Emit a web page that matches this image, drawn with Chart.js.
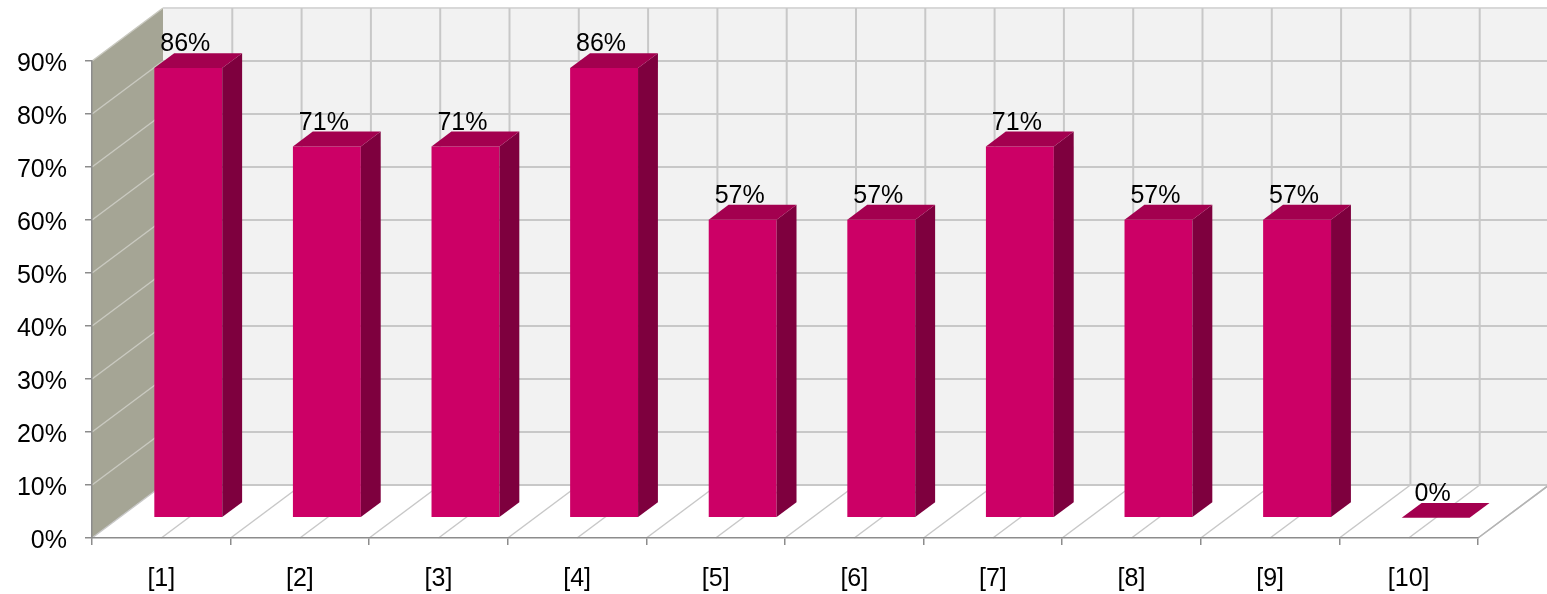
<!DOCTYPE html>
<html>
<head>
<meta charset="utf-8">
<script src="https://cdn.jsdelivr.net/npm/chart.js@4.4.1/dist/chart.umd.min.js"></script>
<style>
  html, body { margin: 0; padding: 0; background: #fff; }
  #wrap { width: 1547px; height: 594px; }
</style>
</head>
<body>
<div id="wrap"><canvas id="myChart"></canvas></div>
<script>
const labels = ["[1]", "[2]", "[3]", "[4]", "[5]", "[6]", "[7]", "[8]", "[9]", "[10]"];
const values = [86, 71, 71, 86, 57, 57, 71, 57, 57, 0];
const yTicks = [0, 10, 20, 30, 40, 50, 60, 70, 80, 90];

// depth of the 3d box, in px
const DX = 71, DY = -53;
// where the bars sit inside the depth (0 = front, 1 = back)
const BAR_FRONT = 0.38, BAR_BACK = 0.66;
// bars further back look a bit shorter
const BAR_SHRINK = 0.987;

const FONT = { size: 25, family: "'Liberation Sans', Arial, sans-serif" };
const AXIS_GREY = "#8c8c8c";

function poly(ctx, pts, fill) {
  ctx.beginPath();
  ctx.moveTo(pts[0][0], pts[0][1]);
  for (let i = 1; i < pts.length; i++) ctx.lineTo(pts[i][0], pts[i][1]);
  ctx.closePath();
  ctx.fillStyle = fill;
  ctx.fill();
}

function line(ctx, x1, y1, x2, y2, color, w) {
  ctx.beginPath();
  ctx.moveTo(x1, y1);
  ctx.lineTo(x2, y2);
  ctx.strokeStyle = color;
  ctx.lineWidth = w;
  ctx.stroke();
}

// walls and floor behind everything
const walls = {
  id: "walls",
  beforeDraw(chart) {
    const { ctx, chartArea: a, scales } = chart;
    const x = scales.x, y = scales.y;
    ctx.save();

    // back wall
    ctx.fillStyle = "#f2f2f2";
    ctx.fillRect(a.left + DX, a.top + DY, a.right - a.left, a.bottom - a.top);

    // floor
    poly(ctx, [[a.left, a.bottom], [a.right, a.bottom], [a.right + DX, a.bottom + DY], [a.left + DX, a.bottom + DY]], "#ffffff");

    // side wall
    poly(ctx, [[a.left, a.top], [a.left + DX, a.top + DY], [a.left + DX, a.bottom + DY], [a.left, a.bottom]], "#a5a595");

    // horizontal lines on the back wall, slanted ones on the side wall
    yTicks.forEach(v => {
      const py = y.getPixelForValue(v);
      line(ctx, a.left + DX, py + DY, a.right + DX, py + DY, "#c8c8c8", 2);
      if (v > 0) line(ctx, a.left, py, a.left + DX, py + DY, "#c9c9c0", 1.5);
    });
    line(ctx, a.left + DX, a.top + DY, a.right + DX, a.top + DY, "#d8d8d8", 2);

    // vertical lines on the back wall and floor lines, every half category
    for (let i = 0; i <= labels.length * 2; i++) {
      const px = x.getPixelForValue(i / 2 - 0.5);
      if (i > 0) line(ctx, px + DX, a.top + DY, px + DX, a.bottom + DY, "#c8c8c8", 2);
      line(ctx, px, a.bottom, px + DX, a.bottom + DY, "#c8c8c8", 1.5);
    }
    line(ctx, a.right, a.bottom, a.right + DX, a.bottom + DY, "#b4b4b4", 1.5);

    ctx.restore();
  },
};

// push the bars into the box and add side / top faces and value labels
const bars3d = {
  id: "bars3d",
  beforeDatasetsDraw(chart) {
    const ctx = chart.ctx;
    const base = chart.chartArea.bottom;
    ctx.save();
    ctx.translate(DX * BAR_FRONT, DY * BAR_FRONT + base);
    ctx.scale(1, BAR_SHRINK);
    ctx.translate(0, -base);
  },
  afterDatasetsDraw(chart) {
    const ctx = chart.ctx;
    const meta = chart.getDatasetMeta(0);
    const ddx = DX * (BAR_BACK - BAR_FRONT), ddy = DY * (BAR_BACK - BAR_FRONT) / BAR_SHRINK;
    meta.data.forEach(bar => {
      const p = bar.getProps(["x", "y", "base", "width"], true);
      const l = p.x - p.width / 2, r = p.x + p.width / 2;
      if (p.base - p.y > 0.5) {
        poly(ctx, [[r, p.y], [r + ddx, p.y + ddy], [r + ddx, p.base + ddy], [r, p.base]], "#7e003e");
      }
      poly(ctx, [[l, p.y], [r, p.y], [r + ddx, p.y + ddy], [l + ddx, p.y + ddy]], "#a3004f");
    });
    ctx.restore();

    const base = chart.chartArea.bottom;
    ctx.save();
    ctx.font = FONT.size + "px " + FONT.family;
    ctx.fillStyle = "#000";
    ctx.textAlign = "center";
    ctx.textBaseline = "alphabetic";
    meta.data.forEach((bar, i) => {
      const p = bar.getProps(["x", "y"], true);
      const topY = base + (p.y - base) * BAR_SHRINK + DY * BAR_BACK;
      ctx.fillText(values[i] + "%", p.x + DX * BAR_FRONT - 3, topY - 2);
    });
    ctx.restore();
  },
};

const el = document.getElementById("myChart");

new Chart(el, {
  type: "bar",
  data: {
    labels: labels,
    datasets: [
      {
        data: values,
        backgroundColor: "#cc0066",
        borderWidth: 0,
        categoryPercentage: 1,
        barPercentage: 0.49,
        clip: false,
      },
    ],
  },
  options: {
    responsive: true,
    maintainAspectRatio: false,
    animation: false,
    layout: {
      padding: { top: 61, right: 69, left: 0, bottom: 0 },
    },
    scales: {
      x: {
        ticks: { font: FONT, color: "#000", padding: 19, maxRotation: 0 },
        grid: { drawOnChartArea: false, tickLength: 7, color: AXIS_GREY, lineWidth: 1.5, offset: true },
        border: { color: AXIS_GREY, width: 1.5 },
        afterFit: s => { s.height = 56; },
      },
      y: {
        min: 0,
        max: 90,
        afterBuildTicks: s => { s.ticks = yTicks.map(v => ({ value: v })); },
        ticks: { font: FONT, color: "#000", padding: 18, labelOffset: 3, callback: v => v + "%" },
        grid: { drawOnChartArea: false, tickLength: 7, color: AXIS_GREY, lineWidth: 1.5 },
        border: { color: AXIS_GREY, width: 1.5 },
        afterFit: s => { s.width = 92; },
      },
    },
    plugins: {
      legend: { display: false },
      tooltip: { enabled: false },
    },
  },
  plugins: [walls, bars3d],
});
</script>
</body>
</html>
